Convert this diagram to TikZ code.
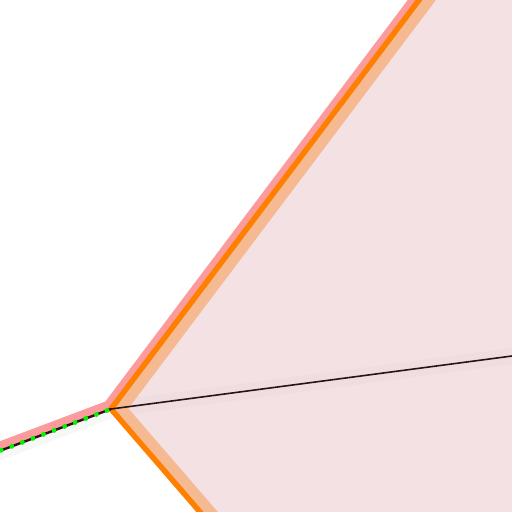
\documentclass[tikz,border=0pt]{standalone}
\usetikzlibrary{calc}
\definecolor{pinkfill}{RGB}{243,225,227}
\definecolor{lorange}{RGB}{246,186,147}
\definecolor{orangeln}{RGB}{255,128,0}
\definecolor{pinkband}{RGB}{252,155,155}
\definecolor{grayband}{RGB}{247,247,247}
\definecolor{darkln}{RGB}{40,20,20}
\definecolor{greendot}{RGB}{0,245,0}
\definecolor{midband}{RGB}{240,221,223}
\begin{document}
\begin{tikzpicture}[x=1pt,y=-1pt,
  orangeedge/.style={draw=orangeln,line width=5.5pt,line join=miter},
  blackedge/.style={draw=darkln,line width=2.4pt},
  thinedge/.style={draw=darkln,line width=1.6pt},
  dotline/.style={draw=greendot,line width=4.8pt,line cap=round,dash pattern=on 0pt off 11.3pt,dash phase=7pt}]
\useasboundingbox (0,0) rectangle (512,512);
\clip (0,0) rectangle (512,512);
\coordinate (V) at (111,409);
\coordinate (A) at ($(V)!1.15!(419,0)$);
\coordinate (B) at ($(V)!1.2!(200,512)$);
\coordinate (C) at ($(V)!1.2!(0,450.8)$);
\coordinate (D) at ($(V)!1.1!(512,356)$);
% pink region
\fill[pinkfill] (V) -- (A) -- (700,-100) -- (700,700) -- (B) -- cycle;
\begin{scope}
\clip (V) -- (A) -- (700,-100) -- (700,700) -- (B) -- cycle;
\draw[midband,line width=16pt] (V) -- (D);
\draw[lorange,line width=27pt,line join=miter] (A) -- (V) -- (B);
\end{scope}
% upper-left region band
\begin{scope}
\clip (C) -- (V) -- (A) -- (-200,-200) -- cycle;
\draw[pinkband,line width=18pt,line join=miter] (C) -- (V) -- (A);
\end{scope}
% lower region band
\begin{scope}
\clip (C) -- (V) -- (B) -- (-200,700) -- cycle;
\draw[grayband,line width=18pt] (C) -- (V);
\end{scope}
% edges
\draw[orangeedge] (A) -- (V) -- (B);
\draw[thinedge] (V) -- (D);
\draw[blackedge] (V) -- (C);
\draw[dotline] (V) -- (C);
\end{tikzpicture}
\end{document}
